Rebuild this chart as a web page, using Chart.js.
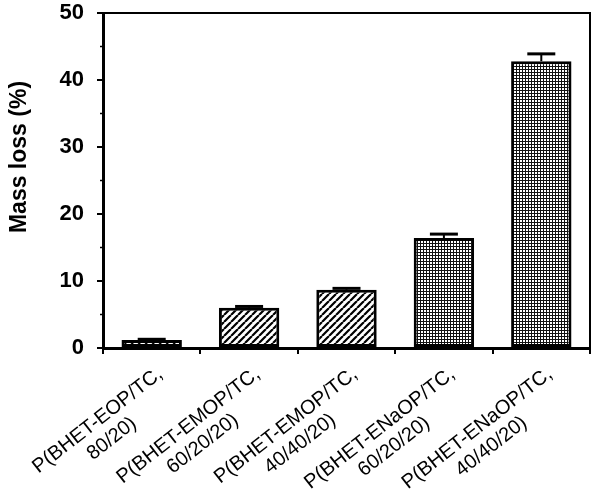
<!DOCTYPE html>
<html>
<head>
<meta charset="utf-8">
<script src="https://cdn.jsdelivr.net/npm/chart.js@4.4.1/dist/chart.umd.min.js"></script>
<style>
  html, body { margin: 0; padding: 0; background: #fff; }
  #cntr { width: 600px; height: 491px; position: relative; }
</style>
</head>
<body>
<div id="cntr">
  <canvas id="myChart" width="600" height="491"></canvas>
</div>
<script>
// datos
const muestras = [
  ['P(BHET-EOP/TC,', '80/20)'],
  ['P(BHET-EMOP/TC,', '60/20/20)'],
  ['P(BHET-EMOP/TC,', '40/40/20)'],
  ['P(BHET-ENaOP/TC,', '60/20/20)'],
  ['P(BHET-ENaOP/TC,', '40/40/20)']
];
const perdida = [1.2, 6.0, 8.7, 16.4, 42.8];
const errores = [0.1, 0.2, 0.2, 0.6, 1.1];
const relleno = ['rayas', 'rayas', 'rayas', 'cuadros', 'cuadros'];
const ticksY = [0, 10, 20, 30, 40, 50];
const tituloY = 'Mass loss (%)';

const fuente = '"Liberation Sans", Arial, sans-serif';

// patrones de relleno
function patronRayas() {
  const c = document.createElement('canvas');
  c.width = 7; c.height = 7;
  const g = c.getContext('2d');
  g.fillStyle = '#fff';
  g.fillRect(0, 0, 7, 7);
  g.strokeStyle = '#000';
  g.lineWidth = 2.2;
  g.beginPath();
  for (let k = -7; k <= 14; k += 7) {
    g.moveTo(k, 7);
    g.lineTo(k + 7, 0);
  }
  g.stroke();
  return g.createPattern(c, 'repeat');
}

function patronCuadros() {
  const c = document.createElement('canvas');
  c.width = 3; c.height = 3;
  const g = c.getContext('2d');
  g.fillStyle = '#fff';
  g.fillRect(0, 0, 3, 3);
  g.fillStyle = '#111';
  g.fillRect(0, 0, 3, 1);
  g.fillRect(0, 0, 1, 3);
  return g.createPattern(c, 'repeat');
}

const rayas = patronRayas();
const cuadros = patronCuadros();
const colores = relleno.map(r => r === 'rayas' ? rayas : cuadros);

// barras de error, marco, etiquetas y titulo del eje
const extras = {
  id: 'extras',
  afterDatasetsDraw(chart) {
    const ctx = chart.ctx;
    const x = chart.scales.x;
    const y = chart.scales.y;
    const area = chart.chartArea;
    const meta = chart.getDatasetMeta(0);
    ctx.save();
    ctx.strokeStyle = '#000';
    meta.data.forEach((bar, i) => {
      const yTop = y.getPixelForValue(perdida[i]);
      const yErr = y.getPixelForValue(perdida[i] + errores[i]);
      ctx.lineWidth = 2;
      ctx.beginPath();
      ctx.moveTo(bar.x, yTop);
      ctx.lineTo(bar.x, yErr);
      ctx.stroke();
      ctx.lineWidth = 3;
      ctx.beginPath();
      ctx.moveTo(bar.x - 14, yErr);
      ctx.lineTo(bar.x + 14, yErr);
      ctx.stroke();
    });

    // marco superior y derecho
    ctx.lineWidth = 2;
    ctx.beginPath();
    ctx.moveTo(area.left, area.top);
    ctx.lineTo(area.right, area.top);
    ctx.lineTo(area.right, area.bottom);
    ctx.stroke();

    // ticks menores
    ctx.lineWidth = 1.5;
    for (let v = 5; v < 50; v += 10) {
      const py = y.getPixelForValue(v);
      ctx.beginPath();
      ctx.moveTo(area.left - 3, py);
      ctx.lineTo(area.left, py);
      ctx.stroke();
    }

    // etiquetas del eje x, giradas, lineas centradas
    ctx.fillStyle = '#000';
    ctx.font = '20px ' + fuente;
    ctx.textBaseline = 'alphabetic';
    muestras.forEach((lineas, i) => {
      const cx = x.getPixelForValue(i);
      const w1 = ctx.measureText(lineas[0]).width;
      ctx.save();
      ctx.translate(cx + 12, area.bottom + 28);
      ctx.rotate(-38 * Math.PI / 180);
      ctx.textAlign = 'right';
      ctx.fillText(lineas[0], 0, 0);
      ctx.textAlign = 'center';
      ctx.fillText(lineas[1], -w1 / 2, 23);
      ctx.restore();
    });

    // titulo del eje y
    ctx.font = 'bold 23px ' + fuente;
    ctx.textAlign = 'center';
    ctx.textBaseline = 'middle';
    ctx.translate(20, 157);
    ctx.rotate(-Math.PI / 2);
    ctx.fillText(tituloY, 0, 0);
    ctx.restore();
  }
};

const ctx = document.getElementById('myChart');
new Chart(ctx, {
  type: 'bar',
  data: {
    labels: muestras,
    datasets: [{
      data: perdida,
      backgroundColor: colores,
      borderColor: '#000',
      borderWidth: 3,
      borderSkipped: false,
      categoryPercentage: 1,
      barPercentage: 0.62
    }]
  },
  options: {
    responsive: false,
    animation: false,
    events: [],
    layout: { padding: { top: 13, right: 10, left: 0, bottom: 0 } },
    plugins: {
      legend: { display: false },
      tooltip: { enabled: false }
    },
    scales: {
      x: {
        afterFit: s => { s.height = 143; s.paddingLeft = 0; s.paddingRight = 0; },
        grid: {
          offset: true,
          drawOnChartArea: false,
          color: '#000',
          lineWidth: 2,
          tickLength: 6
        },
        border: { color: '#000', width: 3 },
        ticks: { display: false }
      },
      y: {
        min: 0,
        max: 50,
        afterFit: s => { s.width = 103; s.paddingTop = 0; s.paddingBottom = 0; },
        afterBuildTicks: s => { s.ticks = ticksY.map(v => ({ value: v })); },
        grid: {
          drawOnChartArea: false,
          color: '#000',
          lineWidth: 2,
          tickLength: 6
        },
        border: { color: '#000', width: 3 },
        ticks: {
          color: '#000',
          padding: 13,
          font: { family: fuente, size: 22, weight: 'bold' }
        }
      }
    }
  },
  plugins: [extras]
});
</script>
</body>
</html>
